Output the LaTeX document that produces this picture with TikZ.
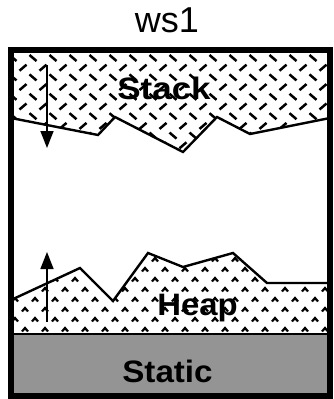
\documentclass[tikz,border=0pt]{standalone}
\usepackage{fontspec}
\setmainfont{Liberation Sans}
\usetikzlibrary{arrows.meta}
\tikzset{
  >={Triangle[length=17pt,width=13pt]},
  frame/.style={line width=5.5pt},
  rim/.style={line width=2.4pt,line join=miter},
  stkmark/.style={line width=2.5pt},
  hpmark/.style={line width=2.2pt,line join=miter},
  growarrow/.style={->,line width=1.5pt},
  lbl/.style={font=\bfseries\fontsize{31}{31}\selectfont,inner sep=0pt,anchor=base},
  ttl/.style={font=\fontsize{36}{36}\selectfont,inner sep=0pt,anchor=base},
}
\begin{document}
\begin{tikzpicture}[x=1pt,y=-1pt]
\useasboundingbox (0,0) rectangle (334,399);
% title
\node[ttl] (title) at (167,32) {ws1};
% static area
\fill[black!42] (11,334) rectangle (330,396);
% stack area
\begin{scope}
\clip (11,50) -- (330,50) -- (330,118) -- (250,134) -- (217,117) -- (183,152)
  -- (115,117) -- (98,135) -- (11,118) -- cycle;
\foreach \k in {0,...,5} \foreach \i in {0,...,16} {
  \draw[stkmark] ({13+20*\i-3.5},{58+19.4*\k-3}) -- ++(7,6);
  \draw[stkmark] ({3+20*\i-3.5},{67.7+19.4*\k+3}) -- ++(7,-6);
}
\end{scope}
% heap area
\begin{scope}
\clip (11,300) -- (80,268) -- (113,301) -- (148,253) -- (183,267) -- (233,253)
  -- (267,283) -- (330,283) -- (330,334) -- (11,334) -- cycle;
\foreach \k in {-2,...,2} \foreach \i in {0,...,16} {
  \draw[hpmark] ({5+20*\i-3},{290+20*\k+1.5}) -- ++(3,-3.5) -- ++(3,3.5);
  \draw[hpmark] ({15+20*\i-3},{300+20*\k+1.5}) -- ++(3,-3.5) -- ++(3,3.5);
}
\end{scope}
% boundaries
\draw[rim] (11,118) -- (98,135) -- (115,117) -- (183,152) -- (217,117)
  -- (250,134) -- (330,118);
\draw[rim] (11,300) -- (80,268) -- (113,301) -- (148,253) -- (183,267)
  -- (233,253) -- (267,283) -- (330,283);
\draw[line width=2.2pt] (11,334) -- (330,334);
\draw[frame] (11,50) rectangle (330,396);
% growth arrows
\coordinate (stktail) at (47,65);
\coordinate (stktip) at (47,148);
\coordinate (hptail) at (47,322);
\coordinate (hptip) at (47,252);
\draw[growarrow] (stktail) -- (stktip);
\draw[growarrow] (hptail) -- (hptip);
% labels
\node[lbl] (stack) at (164,99) {\scalebox{1.13}[1]{Stack}};
\node[lbl] (heap) at (197.5,315) {\scalebox{1.06}[1]{Heap}};
\node[lbl] (static) at (167.5,382) {\scalebox{1.07}[1]{Static}};
\end{tikzpicture}
\end{document}
